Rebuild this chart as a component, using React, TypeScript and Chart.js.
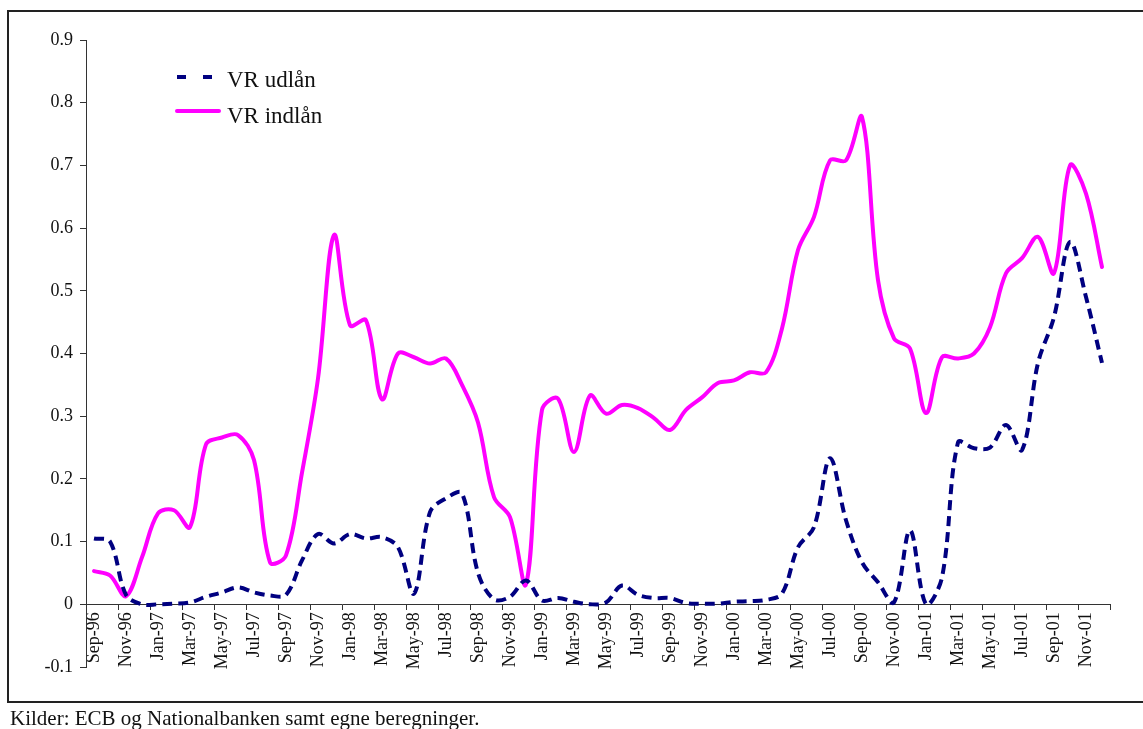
import React, { useEffect, useRef } from 'react';
import { Chart, registerables } from 'chart.js';

Chart.register(...registerables);

const months: string[] = [
  'Sep-96', 'Oct-96', 'Nov-96', 'Dec-96',
  'Jan-97', 'Feb-97', 'Mar-97', 'Apr-97', 'May-97', 'Jun-97', 'Jul-97', 'Aug-97', 'Sep-97', 'Oct-97', 'Nov-97', 'Dec-97',
  'Jan-98', 'Feb-98', 'Mar-98', 'Apr-98', 'May-98', 'Jun-98', 'Jul-98', 'Aug-98', 'Sep-98', 'Oct-98', 'Nov-98', 'Dec-98',
  'Jan-99', 'Feb-99', 'Mar-99', 'Apr-99', 'May-99', 'Jun-99', 'Jul-99', 'Aug-99', 'Sep-99', 'Oct-99', 'Nov-99', 'Dec-99',
  'Jan-00', 'Feb-00', 'Mar-00', 'Apr-00', 'May-00', 'Jun-00', 'Jul-00', 'Aug-00', 'Sep-00', 'Oct-00', 'Nov-00', 'Dec-00',
  'Jan-01', 'Feb-01', 'Mar-01', 'Apr-01', 'May-01', 'Jun-01', 'Jul-01', 'Aug-01', 'Sep-01', 'Oct-01', 'Nov-01', 'Dec-01',
];

const vrUdlan: number[] = [
  0.105, 0.1, 0.015, 0.0, 0.0, 0.001, 0.003, 0.012, 0.019, 0.027,
  0.019, 0.014, 0.015, 0.07, 0.112, 0.097, 0.112, 0.105, 0.107, 0.091,
  0.017, 0.147, 0.169, 0.177, 0.05, 0.008, 0.012, 0.038, 0.006, 0.01,
  0.004, 0.0, 0.003, 0.03, 0.015, 0.01, 0.01, 0.002, 0.001, 0.001,
  0.004, 0.005, 0.007, 0.017, 0.091, 0.123, 0.233, 0.134, 0.067, 0.035,
  0.003, 0.118, 0.0, 0.043, 0.258, 0.249, 0.25, 0.286, 0.246, 0.385,
  0.458, 0.578, 0.49, 0.385,
];

const vrIndlan: number[] = [
  0.053, 0.046, 0.013, 0.075, 0.145, 0.15, 0.123, 0.255, 0.266, 0.27,
  0.23, 0.067, 0.078, 0.21, 0.36, 0.589, 0.445, 0.453, 0.327, 0.4,
  0.394, 0.384, 0.392, 0.35, 0.29, 0.171, 0.139, 0.032, 0.31, 0.328,
  0.243, 0.333, 0.304, 0.318, 0.313, 0.297, 0.278, 0.31, 0.33, 0.353,
  0.357, 0.37, 0.37, 0.44, 0.565, 0.618, 0.708, 0.708, 0.777, 0.517,
  0.424, 0.408, 0.305, 0.394, 0.392, 0.4, 0.442, 0.528, 0.552, 0.586,
  0.528, 0.7, 0.655, 0.538,
];

const seriesNames: string[] = ['VR udlån', 'VR indlån'];
const sourceNote = 'Kilder: ECB og Nationalbanken samt egne beregninger.';
const yMin = -0.1;
const yMax = 0.9;
const yStep = 0.1;

const SERIF = '"Liberation Serif", "Times New Roman", "DejaVu Serif", serif';
const NAVY = '#000080';
const MAGENTA = '#FF00FF';
const AXIS = '#333333';
const TEXT = '#111111';

export default function App() {
  const ref = useRef<HTMLCanvasElement | null>(null);

  useEffect(() => {
    if (!ref.current) return;
    const chart = new Chart(ref.current, {
      type: 'line',
      data: {
        labels: months,
        datasets: [
          {
            label: seriesNames[0],
            data: vrUdlan,
            borderColor: NAVY,
            backgroundColor: NAVY,
            borderWidth: 4,
            borderDash: [10, 6],
            borderCapStyle: 'butt',
            tension: 0.35,
            pointRadius: 0,
            fill: false,
          },
          {
            label: seriesNames[1],
            data: vrIndlan,
            borderColor: MAGENTA,
            backgroundColor: MAGENTA,
            borderWidth: 4,
            borderCapStyle: 'round',
            tension: 0.35,
            pointRadius: 0,
            fill: false,
          },
        ],
      },
      options: {
        responsive: false,
        animation: false,
        devicePixelRatio: 1,
        layout: { padding: { left: 0, top: 40, right: 33, bottom: 62 } },
        plugins: {
          legend: { display: false },
          tooltip: { enabled: false },
          title: { display: false },
        },
        scales: {
          x: {
            type: 'category',
            position: { y: 0 } as any,
            offset: true,
            grid: {
              offset: true,
              drawOnChartArea: false,
              drawTicks: true,
              tickLength: 5,
              lineWidth: 1,
              color: (c: any) =>
                c.index === undefined || c.index % 2 === 0 ? AXIS : 'rgba(0,0,0,0)',
            },
            border: { display: true, color: AXIS, width: 1 },
            ticks: {
              autoSkip: false,
              minRotation: 90,
              maxRotation: 90,
              padding: 3,
              color: TEXT,
              font: { family: SERIF, size: 18 },
              callback: (_v: any, i: number) => (i % 2 === 0 ? months[i] : ''),
            },
          },
          y: {
            type: 'linear',
            min: yMin,
            max: yMax,
            afterFit: (s: any) => {
              s.width = 86;
            },
            grid: {
              drawOnChartArea: false,
              drawTicks: true,
              tickLength: 6,
              color: AXIS,
            },
            border: { display: true, color: AXIS, width: 1 },
            ticks: {
              stepSize: yStep,
              padding: 7,
              color: TEXT,
              font: { family: SERIF, size: 18 },
              callback: (v: any) => String(Math.round(Number(v) * 10) / 10),
            },
          },
        },
      },
    });
    return () => chart.destroy();
  }, []);

  const legendText: React.CSSProperties = {
    position: 'fixed',
    left: 227,
    fontFamily: SERIF,
    fontSize: 23,
    lineHeight: '23px',
    color: TEXT,
    whiteSpace: 'nowrap',
  };

  return (
    <div>
      <canvas
        ref={ref}
        width={1143}
        height={729}
        style={{ position: 'fixed', left: 0, top: 0, width: 1143, height: 729 }}
      />
      <div
        style={{
          position: 'fixed',
          left: 7,
          top: 10,
          width: 1200,
          height: 693,
          boxSizing: 'border-box',
          borderLeft: '2px solid #222',
          borderTop: '2px solid #222',
          borderBottom: '2px solid #222',
          pointerEvents: 'none',
        }}
      />
      <div style={{ position: 'fixed', left: 177, top: 75, width: 9, height: 4, background: NAVY }} />
      <div style={{ position: 'fixed', left: 203, top: 75, width: 9, height: 4, background: NAVY }} />
      <div style={{ ...legendText, top: 68 }}>{seriesNames[0]}</div>
      <div style={{ position: 'fixed', left: 175, top: 109, width: 46, height: 4, borderRadius: 2, background: MAGENTA }} />
      <div style={{ ...legendText, top: 104 }}>{seriesNames[1]}</div>
      <div
        style={{
          position: 'fixed',
          left: 10,
          top: 708,
          fontFamily: SERIF,
          fontSize: 21,
          lineHeight: '21px',
          color: TEXT,
          whiteSpace: 'nowrap',
        }}
      >
        {sourceNote}
      </div>
    </div>
  );
}
